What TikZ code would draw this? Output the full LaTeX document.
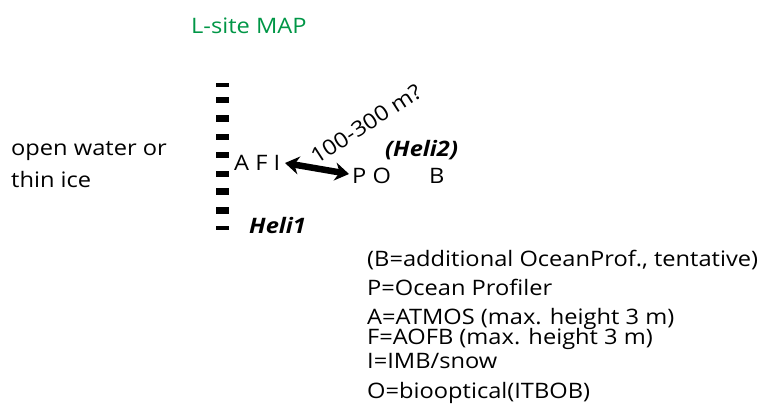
\documentclass[tikz,border=0pt]{standalone}
\usepackage{fontspec}
\setmainfont[FakeStretch=1.11]{Open Sans}
\usetikzlibrary{arrows.meta}
\definecolor{mapgreen}{RGB}{0,150,70}
\begin{document}
\begin{tikzpicture}[x=1pt,y=-1pt,
  txt/.style={anchor=base west,inner sep=0pt,font=\fontsize{21.3}{25}\selectfont},
  bi/.style={txt,font=\fontsize{21.3}{25}\selectfont\bfseries\itshape},
  link/.style={line width=6.5pt,{Stealth[length=14pt,width=18pt]}-{Stealth[length=14pt,width=18pt]}}]
\useasboundingbox (0,0) rectangle (762,410);
\node[txt,text=mapgreen] (title) at (191,33) {L-site MAP};
\node[txt] (ow1) at (11,155) {open water or};
\node[txt] (ow2) at (11,187) {thin ice};
% dashed boundary
\fill (216,83) rectangle (229,86.5);
\foreach \yc in {100,118.5,137,155,174,191.5,210.5}
  \fill (216,\yc-3.3) rectangle (229,\yc+3.3);
\fill (216,226) rectangle (229,229.5);
\node[txt] (afi) at (234,170) {A F I};
\node[txt] (po) at (352,183) {P O};
\node[txt] (b) at (429,183) {B};
\node[bi] (heli2) at (385,156) {(Heli2)};
\node[bi] (heli1) at (249,233) {Heli1};
\coordinate (l) at (285,163);
\coordinate (r) at (349,174);
\draw[link] (l) -- (r);
\node[txt,anchor=center,rotate=33] (dist) at (366,124) {100-300 m?};
% legend
\node[txt] (lg1) at (367,266) {(B=additional OceanProf., tentative)};
\node[txt] (lg2) at (367,295) {P=Ocean Profiler};
\node[txt] (lg3) at (367,324) {A=ATMOS (max. height 3 m)};
\node[txt] (lg4) at (367,344) {F=AOFB (max. height 3 m)};
\node[txt] (lg5) at (367,368) {I=IMB/snow};
\node[txt] (lg6) at (367,398) {O=biooptical(ITBOB)};
\end{tikzpicture}
\end{document}
